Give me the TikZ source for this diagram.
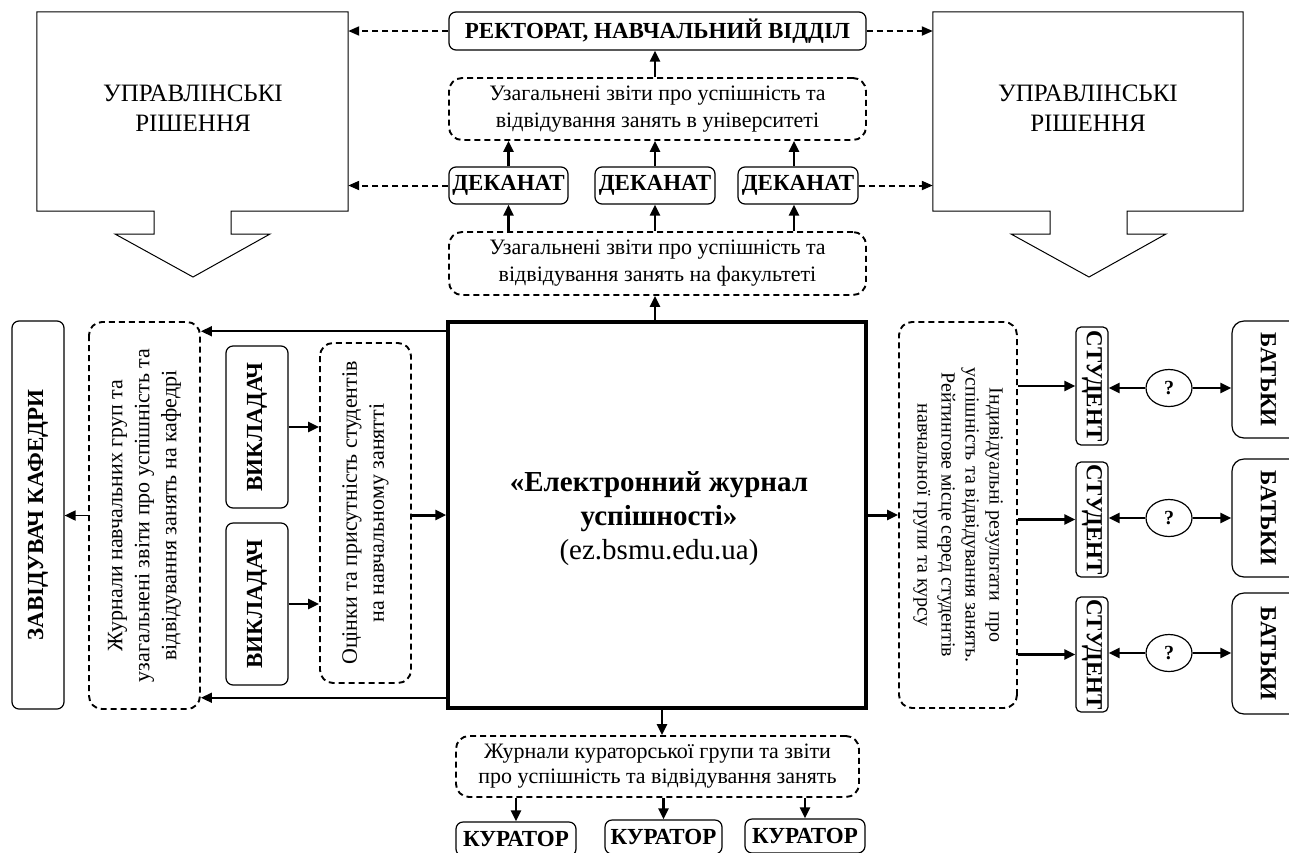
\documentclass[tikz,border=0pt]{standalone}
\usepackage{fontspec}
\setmainfont{Liberation Serif}
\usetikzlibrary{arrows.meta,shapes.geometric}
\newcommand\myfs[2]{\fontsize{#1}{#2}\selectfont}
\tikzset{
  sbox/.style={draw, rounded corners=7pt, line width=1.2pt, inner sep=0pt, align=center, font=\myfs{23}{27}\bfseries},
  dbox/.style={draw, dash pattern=on 6pt off 4pt, rounded corners=13pt, line width=1.9pt, inner sep=0pt, align=center, font=\myfs{22}{27}},
  bigbox/.style={inner sep=0pt, align=center, font=\myfs{25}{30}},
  arr/.style={-{Triangle[length=11pt,width=10pt]}, line width=2.4pt},
  thinarr/.style={-{Triangle[length=11pt,width=10pt]}, line width=1.8pt},
  darr/.style={-{Triangle[length=11pt,width=9pt]}, line width=2pt, dash pattern=on 6pt off 4pt},
  qnode/.style={draw, ellipse, line width=1.2pt, inner sep=0pt, minimum width=46pt, minimum height=37pt, font=\myfs{20}{24}\bfseries},
  shapeline/.style={line width=1pt, line join=miter},
}
\begin{document}
\begin{tikzpicture}[x=1pt,y=1pt]
\useasboundingbox (0,0) rectangle (1289,-852);
\clip (0,0) rectangle (1289,-852);

% big decision boxes
\node[bigbox, minimum width=311pt, minimum height=199pt] (L) at (192.5,-111.5) {};
\node[bigbox] (Lt) at (193,-108) {УПРАВЛІНСЬКІ\\РІШЕННЯ};
\draw[shapeline] (L.north west) -- (L.north east) -- (L.south east) -- (231,-211) -- (231,-234) -- (270,-234) -- (193,-277) -- (115,-234) -- (154,-234) -- (154,-211) -- (L.south west) -- cycle;
\node[bigbox, minimum width=310pt, minimum height=199pt] (RB) at (1088,-111.5) {};
\node[bigbox] (RBt) at (1088,-108) {УПРАВЛІНСЬКІ\\РІШЕННЯ};
\draw[shapeline] (RB.north west) -- (RB.north east) -- (RB.south east) -- (1127,-211) -- (1127,-234) -- (1166,-234) -- (1089,-277) -- (1011,-234) -- (1050,-234) -- (1050,-211) -- (RB.south west) -- cycle;

% top column
\node[sbox, minimum width=417pt, minimum height=38pt] (R) at (657.5,-31) {РЕКТОРАТ, НАВЧАЛЬНИЙ ВІДДІЛ};
\node[dbox, minimum width=417pt, minimum height=62pt] (U) at (657.5,-109) {Узагальнені звіти про успішність та\\відвідування занять в університеті};
\node[sbox, minimum width=119pt, minimum height=37pt] (D1) at (508.5,-185.5) {ДЕКАНАТ};
\node[sbox, minimum width=120pt, minimum height=37pt] (D2) at (655,-185.5) {ДЕКАНАТ};
\node[sbox, minimum width=120pt, minimum height=37pt] (D3) at (798,-185.5) {ДЕКАНАТ};
\node[dbox, minimum width=417pt, minimum height=63pt] (F) at (657.5,-263.5) {Узагальнені звіти про успішність та\\відвідування занять на факультеті};

% central
\node[draw, line width=3.5pt, minimum width=418pt, minimum height=386pt, inner sep=0pt] (C) at (657,-515) {};
\node[align=center, inner sep=0pt, font=\myfs{29}{34}\bfseries] (Ct) at (659,-519)
  {«Електронний журнал\\успішності»\\\mdseries (ez.bsmu.edu.ua)};

% left side
\node[sbox, rotate=90, minimum width=388pt, minimum height=52pt] (Z) at (38,-515) {ЗАВІДУВАЧ КАФЕДРИ};
\node[dbox, rotate=90, minimum width=387pt, minimum height=111pt] (J) at (144.5,-515.5) {Журнали навчальних груп та\\узагальнені звіти про успішність та\\відвідування занять на кафедрі};
\node[sbox, rotate=90, minimum width=162pt, minimum height=62pt] (V1) at (257,-427) {ВИКЛАДАЧ};
\node[sbox, rotate=90, minimum width=162pt, minimum height=62pt] (V2) at (257,-604) {ВИКЛАДАЧ};
\node[dbox, rotate=90, minimum width=340pt, minimum height=91pt] (O) at (365.5,-513) {Оцінки та присутність студентів\\на навчальному занятті};

% right side
\node[dbox, rotate=-90, minimum width=386pt, minimum height=118pt, font=\myfs{20}{24}] (I) at (958,-515) {Індивідуальні результати\ \ про\\успішність та відвідування занять.\\Рейтингове місце серед студентів\\навчальної групи та курсу};
\node[sbox, rotate=-90, minimum width=118pt, minimum height=32pt, rounded corners=5pt] (S1) at (1092,-386) {СТУДЕНТ};
\node[sbox, rotate=-90, minimum width=115pt, minimum height=32pt, rounded corners=5pt] (S2) at (1092,-519.5) {СТУДЕНТ};
\node[sbox, rotate=-90, minimum width=115pt, minimum height=32pt, rounded corners=5pt] (S3) at (1092,-654.5) {СТУДЕНТ};
\node[qnode] (Q1) at (1169,-388) {?};
\node[qnode] (Q2) at (1169,-518) {?};
\node[qnode] (Q3) at (1169,-653) {?};
\node[sbox, rotate=-90, minimum width=117pt, minimum height=73pt, rounded corners=12pt] (B1) at (1268.5,-379.5) {БАТЬКИ};
\node[sbox, rotate=-90, minimum width=118pt, minimum height=73pt, rounded corners=12pt] (B2) at (1268.5,-518) {БАТЬКИ};
\node[sbox, rotate=-90, minimum width=121pt, minimum height=73pt, rounded corners=12pt] (B3) at (1268.5,-653.5) {БАТЬКИ};

% bottom
\node[dbox, minimum width=403pt, minimum height=61pt, font=\myfs{22}{25}] (K) at (657.5,-766.5) {Журнали кураторської групи та звіти\\про успішність та відвідування занять};
\node[sbox, minimum width=120pt, minimum height=34pt] (K1) at (516,-839) {КУРАТОР};
\node[sbox, minimum width=117pt, minimum height=34pt] (K2) at (663.5,-837) {КУРАТОР};
\node[sbox, minimum width=120pt, minimum height=34pt] (K3) at (805,-836) {КУРАТОР};

% connectors top
\draw[darr] (R.west) -- (R.west -| L.east);
\draw[darr] (R.east) -- (R.east -| RB.west);
\draw[darr] (D1.west) -- (D1.west -| L.east);
\draw[darr] (D3.east) -- (D3.east -| RB.west);
\draw[arr] (U.north -| D2.north) -- (R.south -| D2.north);
\draw[arr] (D1.north) -- (D1.north |- U.south);
\draw[arr] (D2.north) -- (D2.north |- U.south);
\draw[arr] ([xshift=-4pt]D3.north) -- ([xshift=-4pt]D3.north |- U.south);
\draw[arr] (F.north -| D1.south) -- (D1.south);
\draw[arr] (F.north -| D2.south) -- (D2.south);
\draw[arr] ([xshift=-4pt]F.north -| D3.south) -- ([xshift=-4pt]D3.south);
\draw[arr] (C.north -| D2.north) -- (F.south -| D2.north);

% connectors left
\draw[thinarr] ([yshift=-11pt]C.north west) -- ([yshift=-11pt]C.north west -| J.south);
\draw[thinarr] ([yshift=12pt]C.south west) -- ([yshift=12pt]C.south west -| J.south);
\draw[thinarr] (J.north) -- (J.north -| Z.south);
\draw[arr] (V1.south) -- (V1.south -| O.north);
\draw[arr] (V2.south) -- (V2.south -| O.north);
\draw[arr, line width=3pt] (O.south |- C.west) -- (C.west);

% connectors right
\draw[arr, line width=3pt] (C.east) -- (C.east -| I.south);
\draw[arr] (S1.south -| I.north) -- (S1.south);
\draw[arr] (S2.south -| I.north) -- (S2.south);
\draw[arr] (S3.south -| I.north) -- (S3.south);
\draw[arr] (Q1.west) -- (Q1.west -| S1.north);
\draw[arr] (Q2.west) -- (Q2.west -| S2.north);
\draw[arr] (Q3.west) -- (Q3.west -| S3.north);
\draw[arr] (Q1.east) -- (Q1.east -| B1.south);
\draw[arr] (Q2.east) -- (Q2.east -| B2.south);
\draw[arr] (Q3.east) -- (Q3.east -| B3.south);

% connectors bottom
\draw[arr] ([xshift=5pt]C.south) -- ([xshift=5pt]C.south |- K.north);
\draw[arr] (K.south -| K1.north) -- (K1.north);
\draw[arr] (K.south -| K2.north) -- (K2.north);
\draw[arr] (K.south -| K3.north) -- (K3.north);
\end{tikzpicture}
\end{document}
